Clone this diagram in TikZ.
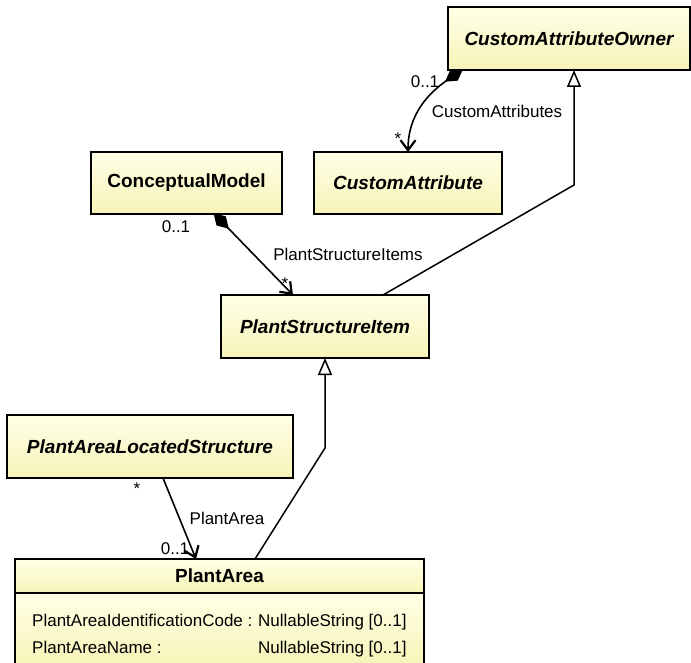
\documentclass[tikz,border=0pt]{standalone}
\usepackage{fontspec}
\setmainfont{Liberation Sans}
\usetikzlibrary{arrows.meta,positioning,calc}
\usepackage{xcolor}
\definecolor{umltop}{HTML}{FFFFE6}
\definecolor{umlbot}{HTML}{F7F4B8}
\tikzset{
  classbox/.style={draw=black, line width=1.6pt, top color=umltop, bottom color=umlbot, align=center, outer sep=0pt, inner sep=0pt, font=\fontsize{19}{22}\selectfont\bfseries},
  abstractbox/.style={classbox, font=\fontsize{19}{22}\selectfont\bfseries\itshape},
  lbl/.style={font=\fontsize{17}{20}\selectfont, inner sep=0pt},
  comp/.style={{Diamond[length=22pt,width=13pt]}-{Straight Barb[length=10pt,width=15pt,line width=2.2pt]}, line width=1.6pt},
  assoc/.style={-{Straight Barb[length=10pt,width=15pt,line width=2.2pt]}, line width=1.6pt},
  gen/.style={-{Triangle[open,length=17pt,width=14pt,fill=white]}, line width=1.5pt}
}
\begin{document}
\begin{tikzpicture}[x=1pt, y=-1pt]
  \useasboundingbox (0,0) rectangle (691,663);
  \node[abstractbox, minimum width=242pt, minimum height=63pt] (owner) at (569,38.5) {CustomAttributeOwner};
  \node[abstractbox, minimum width=188pt, minimum height=62pt] (cattr) at (408,183) {CustomAttribute};
  \node[classbox, minimum width=191pt, minimum height=62pt] (cmodel) at (186.5,183) {ConceptualModel};
  \node[abstractbox, minimum width=208pt, minimum height=63pt] (psi) at (325,326.5) {PlantStructureItem};
  \node[abstractbox, minimum width=286pt, minimum height=63pt] (pals) at (150,446.5) {PlantAreaLocatedStructure};
  \node[classbox, minimum width=409pt, minimum height=34pt] (pahead) at (219.5,576) {PlantArea};
  \node[classbox, minimum width=409pt, minimum height=72pt, below=0pt of pahead] (paattr) {};
  \node[lbl, anchor=base west] (attrcode) at ($(paattr.north west)+(17,33)$) {\makebox[226pt][l]{PlantAreaIdentificationCode :}NullableString [0..1]};
  \node[lbl, anchor=base west] (attrname) at ($(paattr.north west)+(17,60)$) {\makebox[226pt][l]{PlantAreaName :}NullableString [0..1]};
  \draw[comp] ($(owner.south west)+(15,-1)$) .. controls +(-34,24) and +(0,-38) .. (cattr.north);
  \node[lbl] (ownermult) at (425,82) {0..1};
  \node[lbl] (cattrrole) at (497,111) {CustomAttributes};
  \node[lbl] (cattrmult) at (398,139) {*};
  \draw[gen] ($(psi.north west)+(162,0)$) -- ($(owner.south)+(5,115)$) -- ($(owner.south)+(5,0)$);
  \draw[comp] ($(cmodel.south)+(27,-1)$) -- ($(psi.north west)+(72,0)$);
  \node[lbl] (cmodelmult) at (176,227) {0..1};
  \node[lbl] (psirole) at (348,254) {PlantStructureItems};
  \node[lbl] (psimult) at (285,284) {*};
  \draw[assoc] ($(pals.south)+(13,0)$) -- ($(pahead.north west)+(181,0)$);
  \node[lbl] (palsmult) at (137,489) {*};
  \node[lbl] (parole) at (227,518) {PlantArea};
  \node[lbl] (pamult) at (175,549) {0..1};
  \draw[gen] ($(pahead.north west)+(240,0)$) -- ($(psi.south)+(0,90)$) -- (psi.south);
\end{tikzpicture}
\end{document}
